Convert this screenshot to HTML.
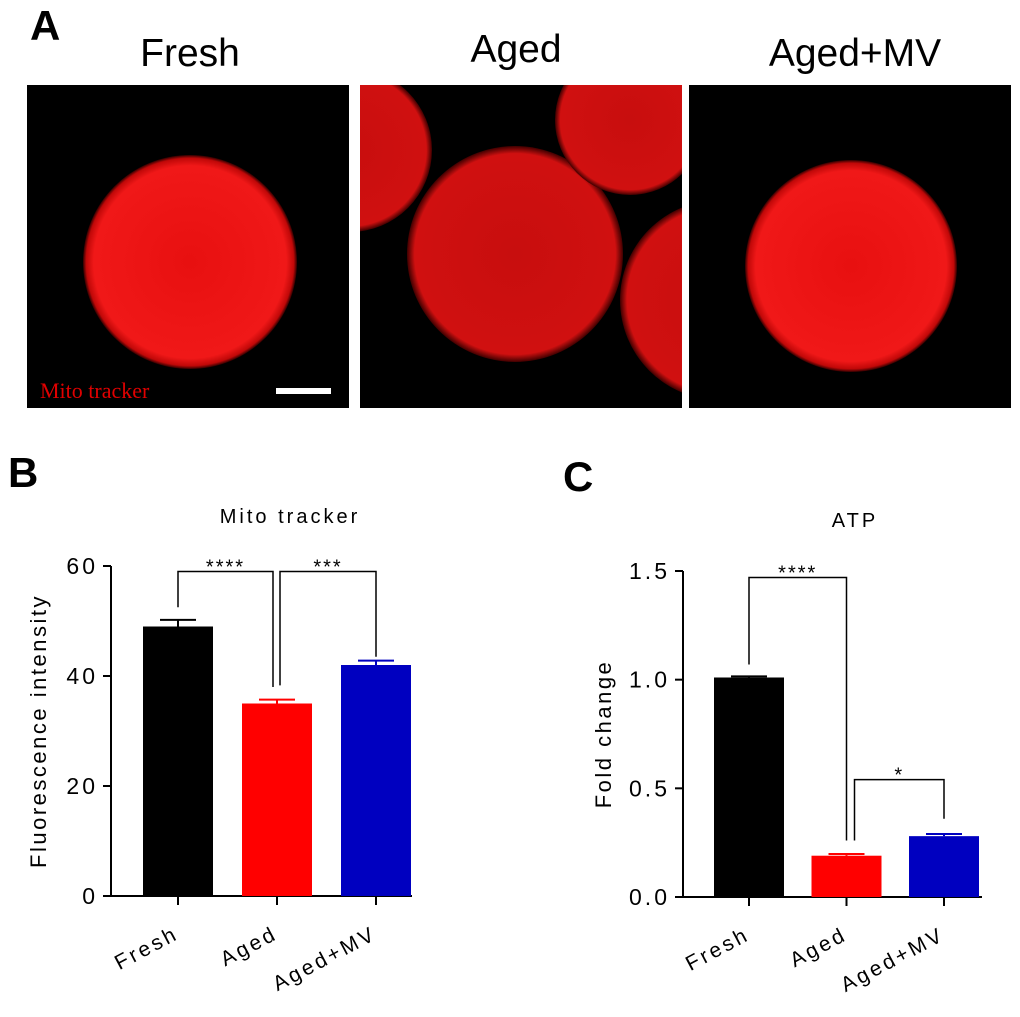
<!DOCTYPE html>
<html><head><meta charset="utf-8"><style>
body{margin:0;background:#fff;width:1020px;height:1017px;overflow:hidden;font-family:"Liberation Sans",Arial,sans-serif;}
svg{position:absolute;left:0;top:0}
</style></head><body>
<svg width="1020" height="1017" viewBox="0 0 1020 1017">
<defs>
<radialGradient id="cell" cx="50%" cy="50%" r="50%">
<stop offset="0" stop-color="#e81010"/><stop offset="0.9" stop-color="#f01818"/><stop offset="0.97" stop-color="#c00808"/><stop offset="1" stop-color="#300000"/>
</radialGradient>
<radialGradient id="cell2" cx="50%" cy="50%" r="50%">
<stop offset="0" stop-color="#c80e0e"/><stop offset="0.93" stop-color="#d01010"/><stop offset="1" stop-color="#400000"/>
</radialGradient>
<clipPath id="c1"><rect x="27" y="85" width="322" height="323"/></clipPath>
<clipPath id="c2"><rect x="360" y="85" width="322" height="323"/></clipPath>
<clipPath id="c3"><rect x="689" y="85" width="322" height="323"/></clipPath>
</defs>
<text x="30" y="40" font-size="42" font-weight="bold">A</text>
<text x="190" y="66" font-size="39" text-anchor="middle">Fresh</text>
<text x="516" y="62" font-size="39" text-anchor="middle">Aged</text>
<text x="855" y="66" font-size="39" text-anchor="middle">Aged+MV</text>
<g clip-path="url(#c1)">
<rect x="27" y="85" width="322" height="323" fill="#000"/>
<circle cx="190" cy="262" r="107" fill="url(#cell)"/>
<text x="40" y="398" font-family="Liberation Serif,serif" font-size="22" fill="#e00000">Mito tracker</text>
<rect x="276" y="388" width="55" height="6" fill="#fff"/>
</g>
<g clip-path="url(#c2)">
<rect x="360" y="85" width="322" height="323" fill="#000"/>
<circle cx="515" cy="254" r="108" fill="url(#cell2)"/>
<circle cx="350" cy="150" r="82" fill="url(#cell2)"/>
<circle cx="630" cy="120" r="75" fill="url(#cell2)"/>
<circle cx="720" cy="300" r="100" fill="url(#cell2)"/>
</g>
<g clip-path="url(#c3)">
<rect x="689" y="85" width="322" height="323" fill="#000"/>
<circle cx="851" cy="266" r="106" fill="url(#cell)"/>
</g>
<text x="8" y="487" font-size="42" font-weight="bold">B</text>
<text x="563" y="491" font-size="42" font-weight="bold">C</text>
<g id="chartB"></g>
<g id="chartC"></g>
</svg>
<script>
const categoriesB = ["Fresh","Aged","Aged+MV"];
const valuesB = [49, 35, 42];
const errorsB = [1.2, 0.7, 0.8];
const ticksB = ["0","20","40","60"];
const categoriesC = ["Fresh","Aged","Aged+MV"];
const valuesC = [1.01, 0.19, 0.28];
const errorsC = [0.005, 0.008, 0.01];
const ticksC = ["0.0","0.5","1.0","1.5"];
const colors = ["#000000","#ff0000","#0000c0"];
const NS="http://www.w3.org/2000/svg";
function mk(p,t,a,txt){const e=document.createElementNS(NS,t);for(const k in a)e.setAttribute(k,a[k]);if(txt!==undefined)e.textContent=txt;p.appendChild(e);return e;}
function chart(g,o){
  const y=v=>o.y0-(v-o.min)/(o.max-o.min)*(o.y0-o.y1);
  const x=i=>o.x0+o.first+i*o.step;
  let t=mk(g,'text',{x:o.titleX,y:o.titleY,'font-size':20,'text-anchor':'middle','letter-spacing':'3'},o.title);
  
  
  t=mk(g,'text',{x:0,y:0,'font-size':22,'text-anchor':'middle','letter-spacing':'2.5',transform:`translate(${o.ylx},${(o.y0+o.y1)/2}) rotate(-90)`},o.ylabel);
  
  
  let a=mk(g,'line',{x1:o.x0,y1:o.y1,x2:o.x0,y2:o.y0,stroke:'#000','stroke-width':2});
  
  
  a=mk(g,'line',{x1:o.x0-8,y1:o.y0,x2:o.xEnd,y2:o.y0,stroke:'#000','stroke-width':2});
  
  
  o.ticks.forEach(s=>{const v=parseFloat(s);
    mk(g,'line',{x1:o.x0-8,y1:y(v),x2:o.x0,y2:y(v),stroke:'#000','stroke-width':2});
    const tt=mk(g,'text',{x:o.x0-13,y:y(v)+8,'font-size':23,'text-anchor':'end','letter-spacing':'3'},s);
    
    
  });
  o.cats.forEach((c,i)=>{
    const cx=x(i);
    const b=mk(g,'rect',{x:cx-o.bw/2,y:y(o.vals[i]),width:o.bw,height:o.y0-y(o.vals[i]),fill:colors[i]});
    
    
    const et=y(o.vals[i]+o.errs[i]);
    const e=mk(g,'path',{d:`M${cx} ${y(o.vals[i])}V${et}M${cx-18} ${et}H${cx+18}`,stroke:colors[i],'stroke-width':2,fill:'none'});
    
    
    mk(g,'line',{x1:cx,y1:o.y0,x2:cx,y2:o.y0+9,stroke:'#000','stroke-width':2});
    const l=mk(g,'text',{x:0,y:0,'font-size':21,'text-anchor':'end','letter-spacing':'3',transform:`translate(${cx+2},${o.y0+42}) rotate(-28)`},c);
    
    
  });
  o.sig.forEach(s=>{
    const xa=x(s[0])+s[3],xb=x(s[1])+s[4],yt=y(s[5]);
    const p=mk(g,'path',{d:`M${xa} ${y(s[6])}V${yt}H${xb}V${y(s[7])}`,stroke:'#000','stroke-width':1.5,fill:'none'});
    
    
    const st=mk(g,'text',{x:(xa+xb)/2,y:yt+2,'font-size':20,'text-anchor':'middle','letter-spacing':'2'},s[2]);
    
    
  });
}
chart(document.getElementById('chartB'),{cats:categoriesB,vals:valuesB,errs:errorsB,ticks:ticksB,min:0,max:60,x0:111,y0:896,y1:566,xEnd:412,first:67,step:99,bw:70,
  title:'Mito tracker',titleX:290,titleY:523,ylabel:'Fluorescence intensity',ylx:46,
  sig:[[0,1,'****',0,-4,59,52.5,38],[1,2,'***',3,0,59,38.3,43.5]]});
chart(document.getElementById('chartC'),{cats:categoriesC,vals:valuesC,errs:errorsC,ticks:ticksC,min:0,max:1.5,x0:683,y0:897,y1:571,xEnd:982,first:66,step:97.5,bw:70,
  title:'ATP',titleX:855,titleY:527,ylabel:'Fold change',ylx:611,
  sig:[[0,1,'****',0,0,1.47,1.07,0.26],[1,2,'*',8,0,0.54,0.26,0.36]]});
</script>
</body></html>
